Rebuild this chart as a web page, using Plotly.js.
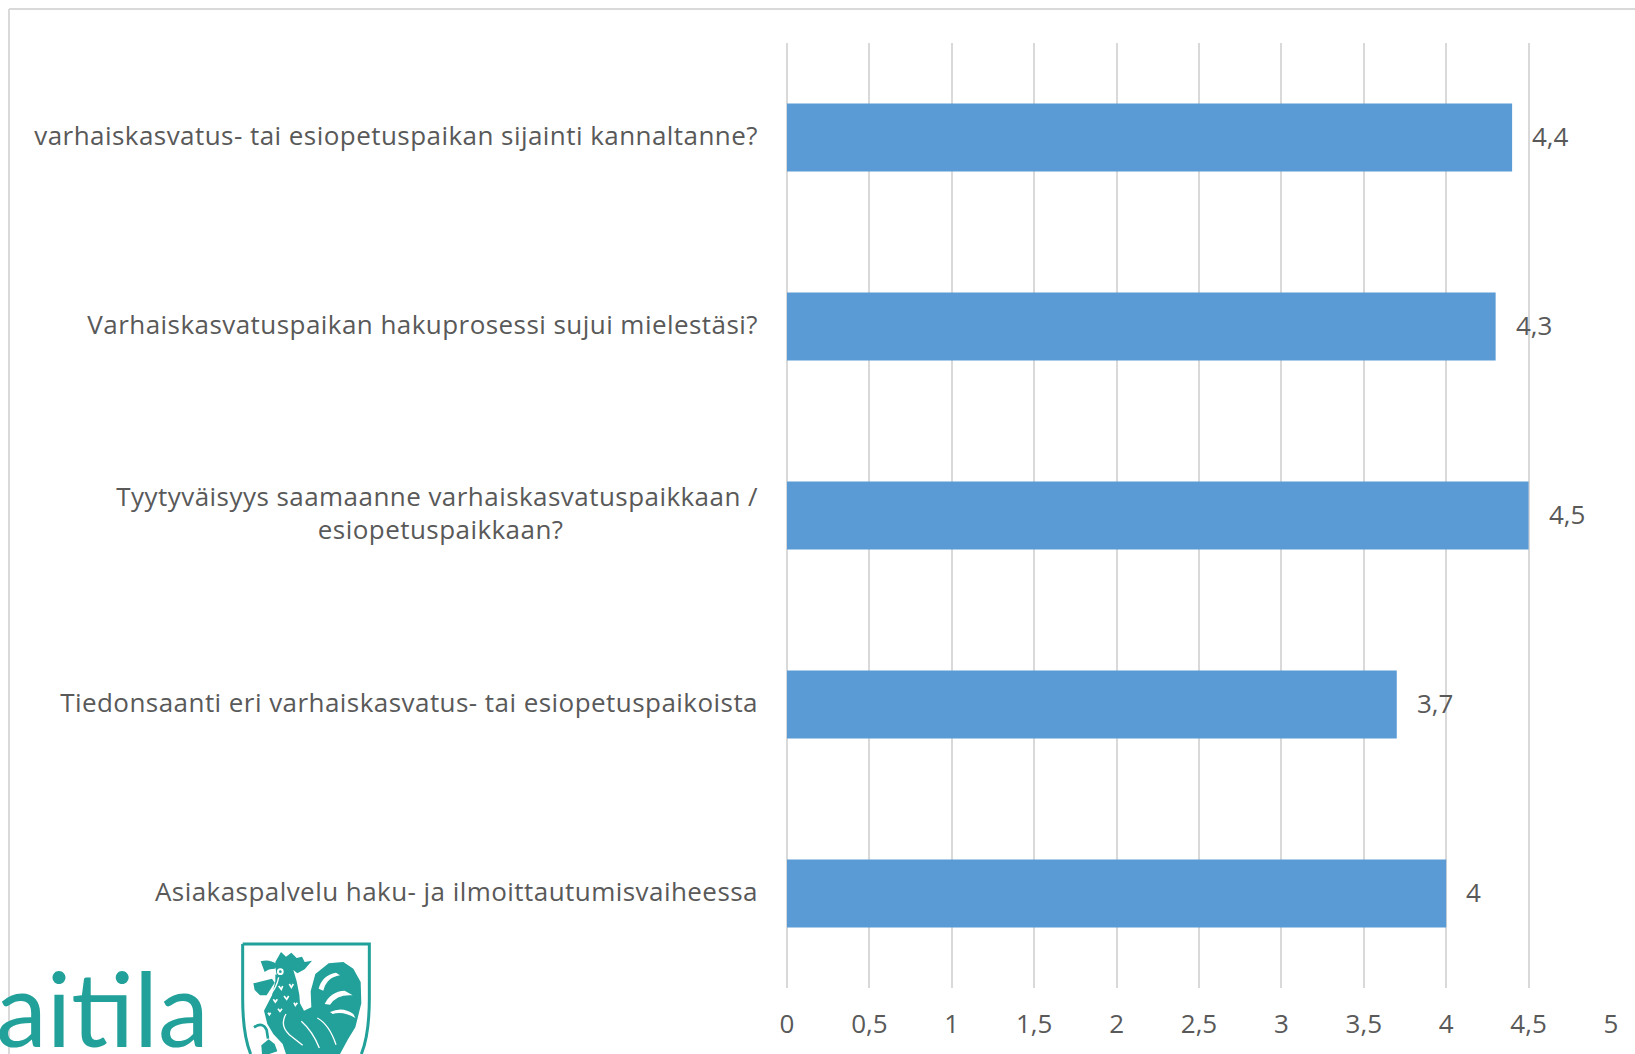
<!DOCTYPE html>
<html><head><meta charset="utf-8">
<script src="https://cdn.plot.ly/plotly-3.0.1.min.js"></script>
<style>html,body{margin:0;padding:0;background:#fff;overflow:hidden}#c{width:1635px;height:1054px}
.ytick text{letter-spacing:.45px}
.annotation text{font-variant-ligatures:none}
</style>
</head><body><div id="c"></div>
<script>
const categories = [
  "varhaiskasvatus- tai esiopetuspaikan sijainti kannaltanne?",
  "Varhaiskasvatuspaikan hakuprosessi sujui mielestäsi?",
  "Tyytyväisyys saamaanne varhaiskasvatuspaikkaan /<br>esiopetuspaikkaan?",
  "Tiedonsaanti eri varhaiskasvatus- tai esiopetuspaikoista",
  "Asiakaspalvelu haku- ja ilmoittautumisvaiheessa"
];
const values = [4.4, 4.3, 4.5, 3.7, 4];
const tickValues = [0, 0.5, 1, 1.5, 2, 2.5, 3, 3.5, 4, 4.5, 5];
const tickLabels = ["0","0,5","1","1,5","2","2,5","3","3,5","4","4,5","5"];
const W=1635,H=1054,L=787,R=24,T=43,B=66;
const px=x=>(x-L)/(W-L-R), py=y=>1-(y-T)/(H-T-B);
const FONT='"Open Sans", sans-serif', GREY='#595959', TEAL='#21a199';
// second line of a wrapped label sits centred under the first one
const centred=c=>c.replace(/<br>(.*)$/,(m,s)=>'<br>'+s+'\u00a0'.repeat(27));
const crest=`<svg xmlns="http://www.w3.org/2000/svg" width="140" height="116" viewBox="0 0 420 348">
<path d="M20 18H400V180Q400 290 376 348M20 18V180Q20 290 44 348" fill="none" stroke="${TEAL}" stroke-width="9"/>
<path fill="${TEAL}" d="M118 72L135 42L150 56L166 44L182 60L198 56L206 72L228 68L206 94L184 106L172 96L182 130L190 170L192 196L204 218L226 208L224 160L238 108L278 76L322 72L352 92L374 132L376 196L358 268L336 304L312 348H150L140 318L112 288L94 258L84 218L108 172L118 130Z"/>
<path fill="${TEAL}" d="M74 70Q100 62 122 78L118 92Q96 92 86 102Z"/>
<path fill="${TEAL}" d="M52 136L108 122L116 134L92 172L72 172L56 156Z"/>
<path fill="#fff" d="M118 90L100 108L122 110Z"/>
<circle cx="133" cy="101" r="10" fill="#fff"/><circle cx="133" cy="101" r="4" fill="${TEAL}"/>
<path fill="none" stroke="#fff" stroke-width="4" d="M128 118Q122 150 100 172M150 228Q130 262 160 290L200 322M196 250Q230 280 250 330M244 240Q280 260 300 320"/>
<path fill="#fff" d="M248 152Q258 112 300 104L312 112Q272 118 262 158ZM266 198Q284 160 326 158L350 172Q304 168 282 200ZM282 222Q320 204 352 228L358 240Q320 218 290 228Z"/>
<path fill="none" stroke="#fff" stroke-width="5" d="M128 144l8 10 4-10M160 138l6 10 6-10M112 184l6 8 6-8M144 174l8 10 6-10M174 194l4 8 6-8M126 212l6 8 6-8M96 224l4 6 4-6"/>
<path fill="none" stroke="${TEAL}" stroke-width="8" d="M54 268Q80 250 92 276L96 302"/>
<path fill="${TEAL}" d="M76 322L98 304L116 318L124 340L100 348H78Z"/>
</svg>`;
Plotly.newPlot('c',[{
  type:'bar',orientation:'h',x:values,y:categories,width:0.36,
  marker:{color:'#5b9bd5',line:{width:0}},hoverinfo:'skip'
}],{
  width:W,height:H,margin:{l:L,r:R,t:T,b:B,pad:0},
  paper_bgcolor:'#fff',plot_bgcolor:'#fff',showlegend:false,
  font:{family:FONT,color:GREY,size:26},
  xaxis:{range:[0,5],tickmode:'array',tickvals:tickValues,ticktext:tickLabels,
    showgrid:true,gridcolor:'#d9d9d9',gridwidth:2,zeroline:true,zerolinecolor:'#d9d9d9',zerolinewidth:2,
    showline:false,ticks:'',ticklabelstandoff:18,tickfont:{family:FONT,size:26,color:GREY}},
  yaxis:{type:'category',categoryorder:'array',categoryarray:categories,autorange:'reversed',
    tickmode:'array',tickvals:categories,ticktext:categories.map(centred),
    showgrid:false,zeroline:false,showline:false,ticks:'',ticklabelstandoff:28,ticklabelshift:2,
    tickfont:{family:FONT,size:26,color:GREY}},
  annotations:[
    ...values.map((v,i)=>({x:v,y:categories[i],xref:'x',yref:'y',text:String(v).replace('.',','),
      showarrow:false,xanchor:'left',xshift:18,yshift:2,font:{family:FONT,size:26,color:GREY}})),
    {xref:'paper',yref:'paper',x:px(0),y:py(1045),xanchor:'left',yanchor:'bottom',text:'aitila',showarrow:false,
     font:{family:'Lato, sans-serif',size:102,color:TEAL},borderpad:0,xshift:-5,yshift:-25}
  ],
  shapes:[
    {type:'line',xref:'paper',yref:'paper',x0:px(9),x1:px(9),y0:py(9),y1:py(1054),line:{color:'#d9d9d9',width:2},layer:'below'},
    {type:'line',xref:'paper',yref:'paper',x0:px(9),x1:px(1635),y0:py(9),y1:py(9),line:{color:'#d9d9d9',width:2},layer:'below'}
  ],
  images:[{source:'data:image/svg+xml;charset=utf-8,'+encodeURIComponent(crest),xref:'paper',yref:'paper',
    x:px(236),y:py(938),sizex:140/(W-L-R),sizey:116/(H-T-B),xanchor:'left',yanchor:'top',sizing:'stretch',layer:'above'}]
},{displayModeBar:false,staticPlot:true});
</script></body></html>
